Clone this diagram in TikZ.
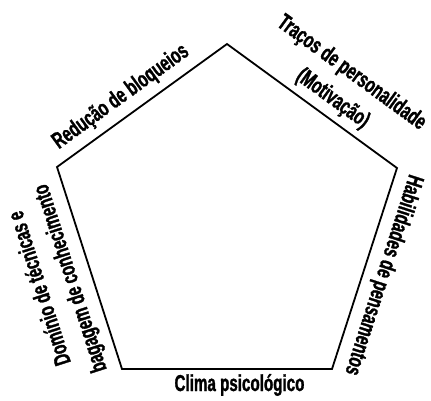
\documentclass[tikz,border=0pt]{standalone}
\usepackage{fontspec}
\newfontfamily\labfont[FakeStretch=0.66,FakeBold=1.2]{Liberation Sans Bold}
\tikzset{
  edge/.style={line width=1.8pt, line join=miter},
  lab/.style={font=\labfont\fontsize{23}{32}\selectfont, align=center, inner sep=0pt}
}
\begin{document}
\begin{tikzpicture}[x=1pt,y=-1pt]
\useasboundingbox (0,0) rectangle (431,400);
\coordinate (T) at (227,44);
\coordinate (R) at (397,168);
\coordinate (BR) at (332,369);
\coordinate (BL) at (122,369);
\coordinate (L) at (57,167);
\draw[edge] (T) -- (R) -- (BR) -- (BL) -- (L) -- cycle;
\node[lab, rotate=35.9] (red) at (121,97) {Redução de bloqueios};
\node[lab, rotate=-36.1] (tra) at (342,86) {Traços de personalidade\\(Motivação)};
\node[lab, rotate=107.8] (dom) at (56,283) {Domínio de técnicas e\\bagagem de conhecimento};
\node[lab, rotate=-107.9] (hab) at (383,275) {Habilidades de pensamentos};
\node[lab] (cli) at (239.5,385) {Clima psicológico};
\end{tikzpicture}
\end{document}
